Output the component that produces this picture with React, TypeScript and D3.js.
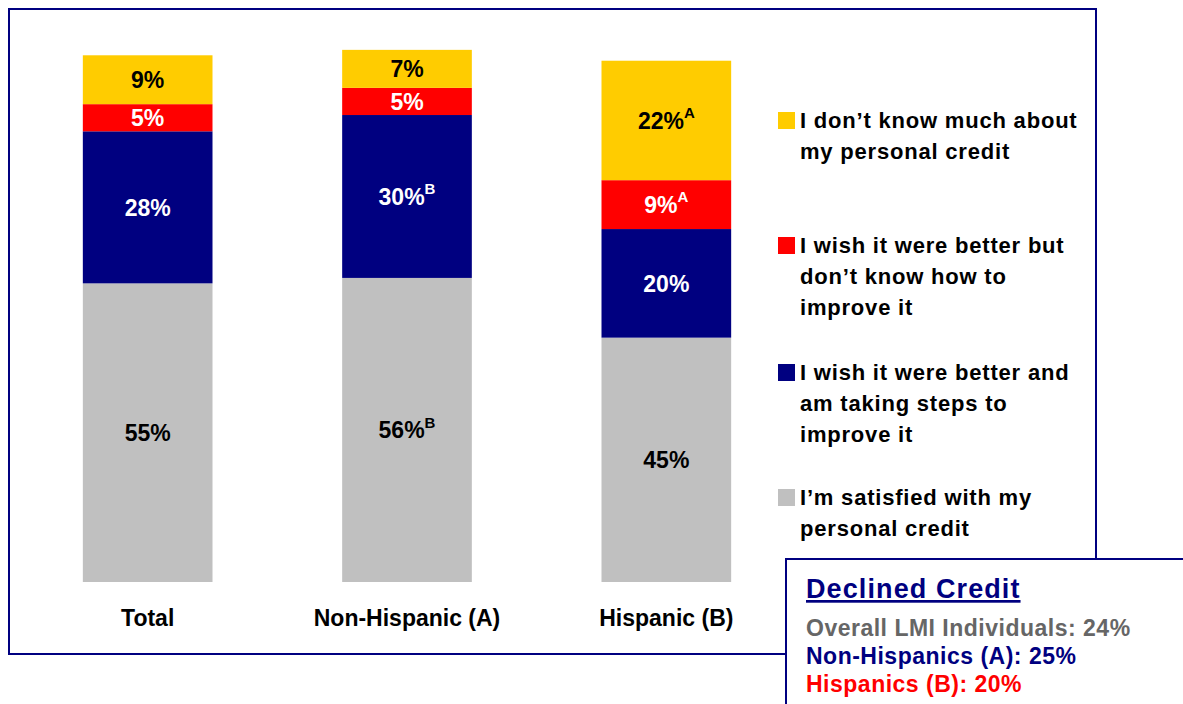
import React from "react";
import * as d3 from "d3";

const categories = ["Total", "Non-Hispanic (A)", "Hispanic (B)"];
const seriesNames = [
  "I\u2019m satisfied with my personal credit",
  "I wish it were better and am taking steps to improve it",
  "I wish it were better but don\u2019t know how to improve it",
  "I don\u2019t know much about my personal credit",
];
const satisfied = [55, 56, 45];
const takingSteps = [28, 30, 20];
const dontKnowHow = [5, 5, 9];
const dontKnowMuch = [9, 7, 22];
const satisfiedSup = ["", "B", ""];
const takingStepsSup = ["", "B", ""];
const dontKnowHowSup = ["", "", "A"];
const dontKnowMuchSup = ["", "", "A"];
const seriesColors = ["#C0C0C0", "#000080", "#FF0000", "#FFCC00"];
const labelColors = ["#000000", "#FFFFFF", "#FFFFFF", "#000000"];
const legendLines = [
  ["I don\u2019t know much about", "my personal credit"],
  ["I wish it were better but", "don\u2019t know how to", "improve it"],
  ["I wish it were better and", "am taking steps to", "improve it"],
  ["I\u2019m satisfied with my", "personal credit"],
];
const legendColors = ["#FFCC00", "#FF0000", "#000080", "#C0C0C0"];
const declinedTitle = "Declined Credit";
const declinedLines = [
  { text: "Overall LMI Individuals: 24%", color: "#666666" },
  { text: "Non-Hispanics (A): 25%", color: "#000080" },
  { text: "Hispanics (B): 20%", color: "#FF0000" },
];

const FONT = "'Liberation Sans', Arial, sans-serif";

export default function App() {
  const W = 1183;
  const H = 704;
  const x = d3
    .scaleBand<string>()
    .domain(categories)
    .range([18, 796])
    .paddingInner(0.5)
    .paddingOuter(0.25);
  const y = d3.scaleLinear().domain([0, 100]).range([582, 39]);

  const rows = categories.map((c, i) => ({
    cat: c,
    s0: satisfied[i],
    s1: takingSteps[i],
    s2: dontKnowHow[i],
    s3: dontKnowMuch[i],
  }));
  const sups = [satisfiedSup, takingStepsSup, dontKnowHowSup, dontKnowMuchSup];
  const stack = d3.stack<any>().keys(["s0", "s1", "s2", "s3"]);
  const layers = stack(rows);

  const legendY = [120, 245, 372, 497];
  const lineH = 31;

  return (
    <svg
      width={W}
      height={H}
      style={{ position: "absolute", left: 0, top: 0, display: "block" }}
      fontFamily={FONT}
    >
      <rect x={0} y={0} width={W} height={H} fill="#FFFFFF" />
      {/* main border */}
      <rect x={9} y={9} width={1087} height={645} fill="none" stroke="#000080" strokeWidth={2} />

      {layers.map((layer, li) => (
        <g key={li}>
          {layer.map((d, i) => {
            const x0 = x(categories[i])!;
            const y0 = y(d[1]);
            const y1 = y(d[0]);
            const val = d[1] - d[0];
            const cx = x0 + x.bandwidth() / 2;
            const cy = (y0 + y1) / 2;
            const sup = sups[li][i];
            return (
              <g key={i}>
                <rect x={x0} y={y0} width={x.bandwidth()} height={y1 - y0} fill={seriesColors[li]} />
                <text
                  x={cx}
                  y={cy}
                  dy="0.36em"
                  textAnchor="middle"
                  fontSize={23}
                  fontWeight="bold"
                  fill={labelColors[li]}
                >
                  {`${val}%`}
                  {sup ? (
                    <tspan fontSize={15} dy="-0.7em">
                      {sup}
                    </tspan>
                  ) : null}
                </text>
              </g>
            );
          })}
        </g>
      ))}

      {categories.map((c) => (
        <text
          key={c}
          x={x(c)! + x.bandwidth() / 2}
          y={626}
          textAnchor="middle"
          fontSize={23}
          fontWeight="bold"
          fill="#000000"
        >
          {c}
        </text>
      ))}

      {legendLines.map((lines, i) => (
        <g key={i}>
          <rect x={778} y={legendY[i] - 8} width={17} height={17} fill={legendColors[i]} />
          {lines.map((ln, j) => (
            <text
              key={j}
              x={800}
              y={legendY[i] + j * lineH}
              dy="0.36em"
              fontSize={22}
              letterSpacing={0.8}
              fontWeight="bold"
              fill="#000000"
            >
              {ln}
            </text>
          ))}
        </g>
      ))}

      {/* declined credit box */}
      <rect x={786} y={559} width={420} height={160} fill="#FFFFFF" stroke="#000080" strokeWidth={2} />
      <text
        x={806}
        y={598}
        fontSize={27}
        letterSpacing={1.1}
        fontWeight="bold"
        fill="#000080"
        textDecoration="underline"
      >
        {declinedTitle}
      </text>
      {declinedLines.map((d, i) => (
        <text
          key={i}
          x={806}
          y={636 + i * 28}
          fontSize={23}
          letterSpacing={0.5}
          fontWeight="bold"
          fill={d.color}
        >
          {d.text}
        </text>
      ))}
    </svg>
  );
}
